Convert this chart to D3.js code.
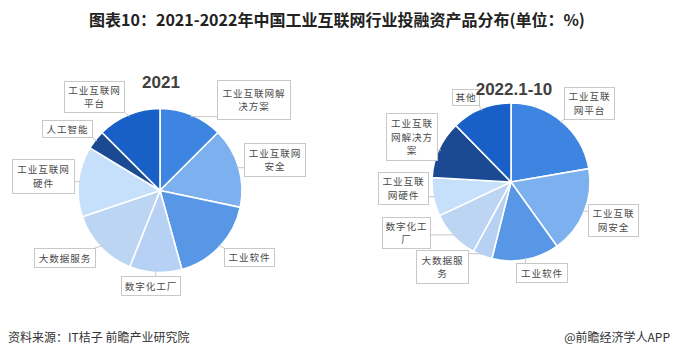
<!DOCTYPE html>
<html><head><meta charset="utf-8">
<script src="https://cdn.jsdelivr.net/npm/d3@7"></script>
<style>
html,body{margin:0;padding:0;background:#fff;}
svg{display:block;font-family:"Noto Sans CJK SC","Noto Sans",sans-serif;}
</style></head>
<body><svg id="c" width="673" height="358"></svg>
<script>
// ---- data ----
const categories2021 = ["工业互联网解决方案","工业互联网安全","工业软件","数字化工厂","大数据服务","工业互联网硬件","人工智能","工业互联网平台"];
const values2021 = [12.5, 15.8, 17.4, 10.3, 13.8, 13.9, 3.8, 12.5];
const categories2022 = ["工业互联网平台","工业互联网安全","工业软件","大数据服务","数字化工厂","工业互联网硬件","工业互联网解决方案","其他"];
const values2022 = [22.3, 17.8, 13.8, 4.0, 10.1, 7.9, 11.8, 12.3];
const labelLines2021 = [["工业互联网解","决方案"],["工业互联网","安全"],["工业软件"],["数字化工厂"],["大数据服务"],["工业互联网","硬件"],["人工智能"],["工业互联网","平台"]];
const labelLines2022 = [["工业互联","网平台"],["工业互联","网安全"],["工业软件"],["大数据服","务"],["数字化工","厂"],["工业互联","网硬件"],["工业互联","网解决方","案"],["其他"]];
const titleText = "图表10：2021-2022年中国工业互联网行业投融资产品分布(单位：%)";
const sourceText = "资料来源：IT桔子 前瞻产业研究院";
const brandText = "@前瞻经济学人APP";

// ---- layout ----
const palette = ["#3d85e0","#7db0ee","#5797e6","#b6d1f4","#bcd5f2","#c6dffb","#1b4a92","#1860c7"];
const svg = d3.select("#c");

svg.append("text").attr("x",337).attr("y",26).attr("text-anchor","middle")
  .attr("font-size",16).attr("font-weight","bold").attr("fill","#222")
  .attr("font-family","'Liberation Sans Narrow','Noto Sans CJK SC',sans-serif")
  .text(titleText);

svg.append("text").attr("x",8).attr("y",342).attr("font-size",12).attr("fill","#333").text(sourceText);
svg.append("text").attr("x",670).attr("y",342).attr("text-anchor","end").attr("font-size",12).attr("fill","#333").text(brandText);

function drawPie(cfg){
  const g = svg.append("g").attr("transform",`translate(${cfg.cx},${cfg.cy})`);
  const pie = d3.pie().sort(null).value(d=>d)(cfg.values);
  const arc = d3.arc().innerRadius(0).outerRadius(cfg.r);
  g.selectAll("path").data(pie).join("path")
    .attr("d",arc).attr("fill",(d,i)=>palette[i])
    .attr("stroke","#fff").attr("stroke-width",1.6);
  pie.forEach((d,i)=>{
    const b = cfg.boxes[i];
    const a = (d.startAngle+d.endAngle)/2;
    const px = cfg.cx + (cfg.r-2)*Math.sin(a), py = cfg.cy - (cfg.r-2)*Math.cos(a);
    const qx = Math.max(b[0], Math.min(b[0]+b[2], px));
    const qy = Math.max(b[1], Math.min(b[1]+b[3], py));
    svg.append("line").attr("x1",px).attr("y1",py).attr("x2",qx).attr("y2",qy)
      .attr("stroke","#c8c8c8").attr("stroke-width",1);
    svg.append("rect").attr("x",b[0]+0.5).attr("y",b[1]+0.5).attr("width",b[2]).attr("height",b[3])
      .attr("fill","#fff").attr("stroke","#c8c8c8").attr("stroke-width",1);
    const lines = cfg.labels[i];
    const lh = 13.5;
    const y0 = b[1] + b[3]/2 - (lines.length-1)*lh/2 + 4;
    lines.forEach((t,k)=>{
      svg.append("text").attr("x",b[0]+b[2]/2+0.5).attr("y",y0+k*lh)
        .attr("text-anchor","middle").attr("font-size",9.6).attr("fill","#4a4a4a")
        .attr("letter-spacing",0.9).text(t);
    });
  });
  svg.append("text").attr("x",cfg.tx).attr("y",cfg.ty).attr("text-anchor","middle")
    .attr("font-size",17).attr("font-weight","bold").attr("fill","#404040")
    .attr("font-family","'Liberation Sans',Arial,sans-serif").text(cfg.title);
}

drawPie({cx:160, cy:190.5, r:82, values:values2021, labels:labelLines2021, title:"2021", tx:161, ty:88,
  boxes:[[217,80,73,39],[244,143,61,33],[224,248,50,18],[121,276,59,19],[34,248,61,19],[12,159,62,34],[42,120,50,17],[64,81,60,31]]});
drawPie({cx:511, cy:182, r:79, values:values2022, labels:labelLines2022, title:"2022.1-10", tx:514, ty:95,
  boxes:[[564,87,50,32],[588,204,50,32],[516,263,51,19],[416,250,52,33],[382,217,48,31],[378,172,50,32],[386,113,51,47],[452,89,27,16]]});
</script></body></html>
